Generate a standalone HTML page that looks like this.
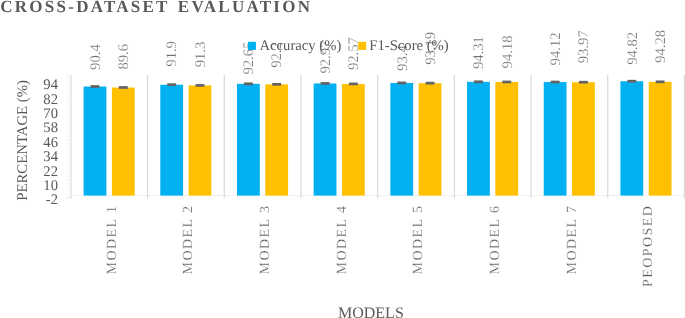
<!DOCTYPE html>
<html><head><meta charset="utf-8"><title>Cross-Dataset Evaluation</title>
<style>html,body{margin:0;padding:0;background:#fff}body{width:685px;height:318px;overflow:hidden}svg{display:block}text{text-rendering:geometricPrecision}</style>
</head><body>
<svg width="685" height="318" viewBox="0 0 685 318" font-family="'Liberation Serif', 'Times New Roman', serif" fill="#595959">
<rect width="685" height="318" fill="#fff"/>
<text x="0.3" y="11.5" font-size="17" font-weight="bold" letter-spacing="2.25" word-spacing="2">CROSS-DATASET EVALUATION</text>
<line x1="70.9" y1="195.59" x2="685" y2="195.59" stroke="#f0f0f0" stroke-width="1"/>
<line x1="70.90" y1="75" x2="70.90" y2="198.3" stroke="#d9d9d9" stroke-width="1.2"/>
<line x1="147.59" y1="75" x2="147.59" y2="198.3" stroke="#d9d9d9" stroke-width="1.2"/>
<line x1="224.28" y1="75" x2="224.28" y2="198.3" stroke="#d9d9d9" stroke-width="1.2"/>
<line x1="300.97" y1="75" x2="300.97" y2="198.3" stroke="#d9d9d9" stroke-width="1.2"/>
<line x1="377.66" y1="75" x2="377.66" y2="198.3" stroke="#d9d9d9" stroke-width="1.2"/>
<line x1="454.35" y1="75" x2="454.35" y2="198.3" stroke="#d9d9d9" stroke-width="1.2"/>
<line x1="531.04" y1="75" x2="531.04" y2="198.3" stroke="#d9d9d9" stroke-width="1.2"/>
<line x1="607.73" y1="75" x2="607.73" y2="198.3" stroke="#d9d9d9" stroke-width="1.2"/>
<line x1="684.42" y1="75" x2="684.42" y2="198.3" stroke="#d9d9d9" stroke-width="1.2"/>
<line x1="66.4" y1="197.80" x2="70.9" y2="197.80" stroke="#e4e4e4" stroke-width="0.9"/>
<line x1="66.4" y1="194.19" x2="70.9" y2="194.19" stroke="#f3f3f3" stroke-width="0.9"/>
<line x1="66.4" y1="190.58" x2="70.9" y2="190.58" stroke="#f3f3f3" stroke-width="0.9"/>
<line x1="66.4" y1="186.96" x2="70.9" y2="186.96" stroke="#f3f3f3" stroke-width="0.9"/>
<line x1="66.4" y1="183.35" x2="70.9" y2="183.35" stroke="#f3f3f3" stroke-width="0.9"/>
<line x1="66.4" y1="179.74" x2="70.9" y2="179.74" stroke="#f3f3f3" stroke-width="0.9"/>
<line x1="66.4" y1="176.13" x2="70.9" y2="176.13" stroke="#f3f3f3" stroke-width="0.9"/>
<line x1="66.4" y1="172.52" x2="70.9" y2="172.52" stroke="#f3f3f3" stroke-width="0.9"/>
<line x1="66.4" y1="168.90" x2="70.9" y2="168.90" stroke="#f3f3f3" stroke-width="0.9"/>
<line x1="66.4" y1="165.29" x2="70.9" y2="165.29" stroke="#f3f3f3" stroke-width="0.9"/>
<line x1="66.4" y1="161.68" x2="70.9" y2="161.68" stroke="#f3f3f3" stroke-width="0.9"/>
<line x1="66.4" y1="158.07" x2="70.9" y2="158.07" stroke="#f3f3f3" stroke-width="0.9"/>
<line x1="66.4" y1="154.46" x2="70.9" y2="154.46" stroke="#f3f3f3" stroke-width="0.9"/>
<line x1="66.4" y1="150.84" x2="70.9" y2="150.84" stroke="#f3f3f3" stroke-width="0.9"/>
<line x1="66.4" y1="147.23" x2="70.9" y2="147.23" stroke="#f3f3f3" stroke-width="0.9"/>
<line x1="66.4" y1="143.62" x2="70.9" y2="143.62" stroke="#f3f3f3" stroke-width="0.9"/>
<line x1="66.4" y1="140.01" x2="70.9" y2="140.01" stroke="#f3f3f3" stroke-width="0.9"/>
<line x1="66.4" y1="136.40" x2="70.9" y2="136.40" stroke="#f3f3f3" stroke-width="0.9"/>
<line x1="66.4" y1="132.78" x2="70.9" y2="132.78" stroke="#f3f3f3" stroke-width="0.9"/>
<line x1="66.4" y1="129.17" x2="70.9" y2="129.17" stroke="#f3f3f3" stroke-width="0.9"/>
<line x1="66.4" y1="125.56" x2="70.9" y2="125.56" stroke="#f3f3f3" stroke-width="0.9"/>
<line x1="66.4" y1="121.95" x2="70.9" y2="121.95" stroke="#f3f3f3" stroke-width="0.9"/>
<line x1="66.4" y1="118.34" x2="70.9" y2="118.34" stroke="#f3f3f3" stroke-width="0.9"/>
<line x1="66.4" y1="114.72" x2="70.9" y2="114.72" stroke="#f3f3f3" stroke-width="0.9"/>
<line x1="66.4" y1="111.11" x2="70.9" y2="111.11" stroke="#f3f3f3" stroke-width="0.9"/>
<line x1="66.4" y1="107.50" x2="70.9" y2="107.50" stroke="#f3f3f3" stroke-width="0.9"/>
<line x1="66.4" y1="103.89" x2="70.9" y2="103.89" stroke="#f3f3f3" stroke-width="0.9"/>
<line x1="66.4" y1="100.28" x2="70.9" y2="100.28" stroke="#f3f3f3" stroke-width="0.9"/>
<line x1="66.4" y1="96.66" x2="70.9" y2="96.66" stroke="#f3f3f3" stroke-width="0.9"/>
<line x1="66.4" y1="93.05" x2="70.9" y2="93.05" stroke="#f3f3f3" stroke-width="0.9"/>
<line x1="66.4" y1="89.44" x2="70.9" y2="89.44" stroke="#f3f3f3" stroke-width="0.9"/>
<line x1="66.4" y1="85.83" x2="70.9" y2="85.83" stroke="#f3f3f3" stroke-width="0.9"/>
<line x1="66.4" y1="82.22" x2="70.9" y2="82.22" stroke="#f3f3f3" stroke-width="0.9"/>
<line x1="66.4" y1="78.60" x2="70.9" y2="78.60" stroke="#f3f3f3" stroke-width="0.9"/>
<line x1="66.4" y1="74.99" x2="70.9" y2="74.99" stroke="#f3f3f3" stroke-width="0.9"/>
<rect x="83.60" y="86.55" width="22.8" height="109.04" fill="#00b0f0"/>
<rect x="111.90" y="87.51" width="22.8" height="108.08" fill="#ffc000"/>
<rect x="90.55" y="85.15" width="8.9" height="2.7" fill="#636363"/>
<rect x="118.85" y="86.11" width="8.9" height="2.7" fill="#636363"/>
<text transform="translate(99.80,69.90) rotate(-90)" font-size="14.67" fill="#6e6e6e" stroke="#fff" stroke-width="0.22">90.4</text>
<text transform="translate(128.10,69.60) rotate(-90)" font-size="14.67" fill="#6e6e6e" stroke="#fff" stroke-width="0.22">89.6</text>
<text transform="translate(115.55,204.6) rotate(-90)" font-size="14" text-anchor="end" letter-spacing="1.45" stroke="#fff" stroke-width="0.22">MODEL 1</text>
<rect x="160.29" y="84.74" width="22.8" height="110.85" fill="#00b0f0"/>
<rect x="188.59" y="85.47" width="22.8" height="110.13" fill="#ffc000"/>
<rect x="167.24" y="83.34" width="8.9" height="2.7" fill="#636363"/>
<rect x="195.54" y="84.07" width="8.9" height="2.7" fill="#636363"/>
<text transform="translate(176.49,66.70) rotate(-90)" font-size="14.67" fill="#6e6e6e" stroke="#fff" stroke-width="0.22">91.9</text>
<text transform="translate(204.79,67.30) rotate(-90)" font-size="14.67" fill="#6e6e6e" stroke="#fff" stroke-width="0.22">91.3</text>
<text transform="translate(192.24,204.6) rotate(-90)" font-size="14" text-anchor="end" letter-spacing="1.45" stroke="#fff" stroke-width="0.22">MODEL 2</text>
<rect x="236.98" y="83.84" width="22.8" height="111.75" fill="#00b0f0"/>
<rect x="265.28" y="84.38" width="22.8" height="111.21" fill="#ffc000"/>
<rect x="243.93" y="82.44" width="8.9" height="2.7" fill="#636363"/>
<rect x="272.23" y="82.98" width="8.9" height="2.7" fill="#636363"/>
<text transform="translate(253.18,74.60) rotate(-90)" font-size="14.67" fill="#6e6e6e" stroke="#fff" stroke-width="0.22">92.65</text>
<text transform="translate(281.48,67.80) rotate(-90)" font-size="14.67" fill="#6e6e6e" stroke="#fff" stroke-width="0.22">92.2</text>
<text transform="translate(268.93,204.6) rotate(-90)" font-size="14" text-anchor="end" letter-spacing="1.45" stroke="#fff" stroke-width="0.22">MODEL 3</text>
<rect x="313.67" y="83.46" width="22.8" height="112.14" fill="#00b0f0"/>
<rect x="341.97" y="83.94" width="22.8" height="111.65" fill="#ffc000"/>
<rect x="320.62" y="82.06" width="8.9" height="2.7" fill="#636363"/>
<rect x="348.92" y="82.54" width="8.9" height="2.7" fill="#636363"/>
<text transform="translate(329.87,73.60) rotate(-90)" font-size="14.67" fill="#6e6e6e" stroke="#fff" stroke-width="0.22">92.97</text>
<text transform="translate(358.17,70.10) rotate(-90)" font-size="14.67" fill="#6e6e6e" stroke="#fff" stroke-width="0.22">92.57</text>
<text transform="translate(345.62,204.6) rotate(-90)" font-size="14" text-anchor="end" letter-spacing="1.45" stroke="#fff" stroke-width="0.22">MODEL 4</text>
<rect x="390.36" y="82.94" width="22.8" height="112.65" fill="#00b0f0"/>
<rect x="418.66" y="83.19" width="22.8" height="112.40" fill="#ffc000"/>
<rect x="397.31" y="81.54" width="8.9" height="2.7" fill="#636363"/>
<rect x="425.61" y="81.79" width="8.9" height="2.7" fill="#636363"/>
<text transform="translate(406.56,70.90) rotate(-90)" font-size="14.67" fill="#6e6e6e" stroke="#fff" stroke-width="0.22">93.4</text>
<text transform="translate(434.86,64.80) rotate(-90)" font-size="14.67" fill="#6e6e6e" stroke="#fff" stroke-width="0.22">93.19</text>
<text transform="translate(422.31,204.6) rotate(-90)" font-size="14" text-anchor="end" letter-spacing="1.45" stroke="#fff" stroke-width="0.22">MODEL 5</text>
<rect x="467.05" y="81.84" width="22.8" height="113.75" fill="#00b0f0"/>
<rect x="495.35" y="82.00" width="22.8" height="113.59" fill="#ffc000"/>
<rect x="474.00" y="80.44" width="8.9" height="2.7" fill="#636363"/>
<rect x="502.30" y="80.60" width="8.9" height="2.7" fill="#636363"/>
<text transform="translate(483.25,69.10) rotate(-90)" font-size="14.67" fill="#6e6e6e" stroke="#fff" stroke-width="0.22">94.31</text>
<text transform="translate(511.55,68.40) rotate(-90)" font-size="14.67" fill="#6e6e6e" stroke="#fff" stroke-width="0.22">94.18</text>
<text transform="translate(499.00,204.6) rotate(-90)" font-size="14" text-anchor="end" letter-spacing="1.45" stroke="#fff" stroke-width="0.22">MODEL 6</text>
<rect x="543.74" y="82.07" width="22.8" height="113.52" fill="#00b0f0"/>
<rect x="572.04" y="82.25" width="22.8" height="113.34" fill="#ffc000"/>
<rect x="550.69" y="80.67" width="8.9" height="2.7" fill="#636363"/>
<rect x="578.99" y="80.85" width="8.9" height="2.7" fill="#636363"/>
<text transform="translate(559.94,65.40) rotate(-90)" font-size="14.67" fill="#6e6e6e" stroke="#fff" stroke-width="0.22">94.12</text>
<text transform="translate(588.24,63.30) rotate(-90)" font-size="14.67" fill="#6e6e6e" stroke="#fff" stroke-width="0.22">93.97</text>
<text transform="translate(575.68,204.6) rotate(-90)" font-size="14" text-anchor="end" letter-spacing="1.45" stroke="#fff" stroke-width="0.22">MODEL 7</text>
<rect x="620.43" y="81.23" width="22.8" height="114.36" fill="#00b0f0"/>
<rect x="648.73" y="81.88" width="22.8" height="113.71" fill="#ffc000"/>
<rect x="627.38" y="79.83" width="8.9" height="2.7" fill="#636363"/>
<rect x="655.68" y="80.48" width="8.9" height="2.7" fill="#636363"/>
<text transform="translate(636.63,64.80) rotate(-90)" font-size="14.67" fill="#6e6e6e" stroke="#fff" stroke-width="0.22">94.82</text>
<text transform="translate(664.93,62.90) rotate(-90)" font-size="14.67" fill="#6e6e6e" stroke="#fff" stroke-width="0.22">94.28</text>
<text transform="translate(652.37,204.6) rotate(-90)" font-size="14" text-anchor="end" letter-spacing="1.45" stroke="#fff" stroke-width="0.22">PEOPOSED</text>
<text x="58" y="204.00" font-size="14.67" text-anchor="end">-2</text>
<text x="58" y="190.00" font-size="14.67" text-anchor="end">10</text>
<text x="58" y="176.00" font-size="14.67" text-anchor="end">22</text>
<text x="58" y="161.00" font-size="14.67" text-anchor="end">34</text>
<text x="58" y="147.00" font-size="14.67" text-anchor="end">46</text>
<text x="58" y="132.00" font-size="14.67" text-anchor="end">58</text>
<text x="58" y="118.00" font-size="14.67" text-anchor="end">70</text>
<text x="58" y="104.00" font-size="14.67" text-anchor="end">82</text>
<text x="58" y="89.00" font-size="14.67" text-anchor="end">94</text>
<text transform="translate(27,140.4) rotate(-90)" font-size="14.8" text-anchor="middle">PERCENTAGE (%)</text>
<text x="370.9" y="317.7" font-size="16" text-anchor="middle">MODELS</text>
<rect x="247.9" y="41.8" width="8" height="8.1" fill="#00b0f0"/>
<text x="259.5" y="49.5" font-size="14.67">Accuracy (%)</text>
<rect x="358.2" y="41.8" width="8" height="8.1" fill="#ffc000"/>
<text x="369.3" y="49.5" font-size="14.67">F1-Score (%)</text>
</svg>
</body></html>
